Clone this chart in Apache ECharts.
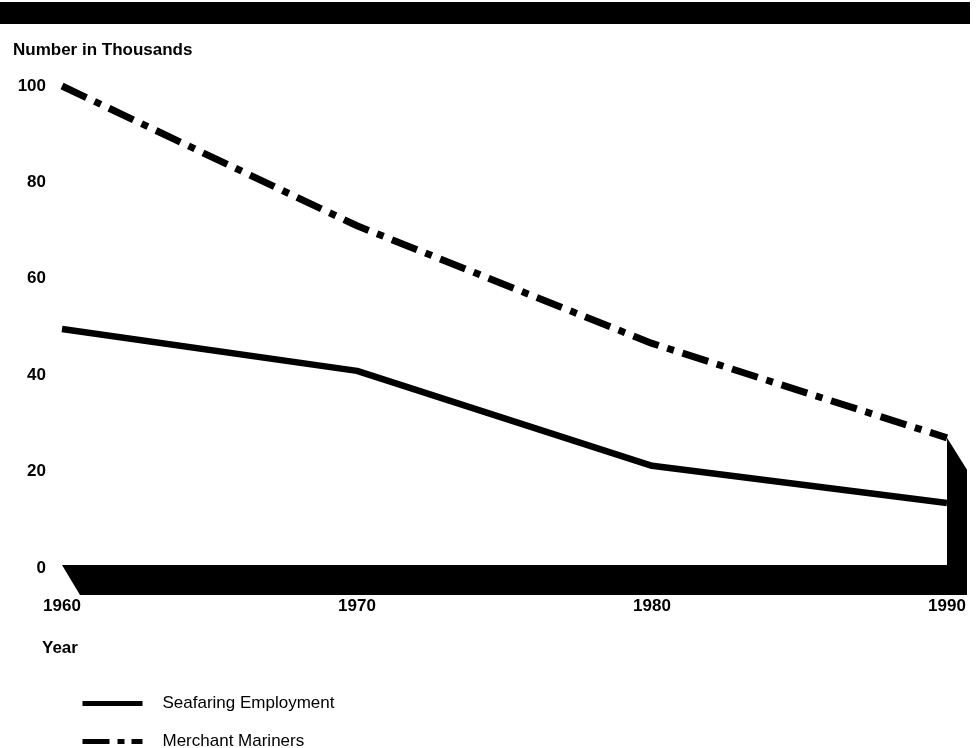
<!DOCTYPE html>
<html>
<head>
<meta charset="utf-8">
<script src="https://cdn.jsdelivr.net/npm/echarts@6/dist/echarts.min.js"></script>
<style>html,body{margin:0;padding:0;background:#fff}#c{width:980px;height:748px}</style>
</head>
<body>
<div id="c"></div>
<script>
var years = ['1960', '1970', '1980', '1990'];
var seafaring = [49.6, 40.9, 21.2, 13.5];
var mariners = [100, 71, 46.6, 27];
var yTicks = [0, 20, 40, 60, 80, 100];

var FONT = '"Liberation Sans", Arial, Helvetica, sans-serif';
var boldText = { fontFamily: FONT, fontSize: 17, fontWeight: 'bold', color: '#000' };
var chart = echarts.init(document.getElementById('c'));
function legendOf(name, top, dash, w) {
  return {
    orient: 'horizontal', left: 80, top: top, padding: 0, itemWidth: 60, itemHeight: 12,
    textStyle: { fontFamily: FONT, fontSize: 17, color: '#000', padding: [0, 0, 0, 15] },
    data: [{ name: name, lineStyle: { color: '#000', width: w, type: dash, cap: 'butt' }, itemStyle: { opacity: 0 } }]
  };
}
chart.setOption({
  backgroundColor: '#fff',
  animation: false,
  textStyle: { fontFamily: FONT },
  title: [
    { text: 'Number in Thousands', left: 13, top: 42, padding: 0, textStyle: boldText },
    { text: 'Year', left: 42, top: 640, padding: 0, textStyle: boldText }
  ],
  graphic: [
    { type: 'rect', shape: { x: 0, y: 2, width: 970, height: 22 }, style: { fill: '#000' } }
  ],
  legend: [
    legendOf('Seafaring Employment', 695, 'solid', 5),
    legendOf('Merchant Mariners', 733, [27, 8, 7, 7], 5)
  ],
  grid: { left: 62, right: 33, top: 86, bottom: 180, containLabel: false },
  xAxis: {
    type: 'category', data: years, boundaryGap: false,
    axisLine: { show: false }, axisTick: { show: false }, splitLine: { show: false },
    axisLabel: Object.assign({ margin: 30 }, boldText)
  },
  yAxis: {
    type: 'value', min: 0, max: 100, interval: 20,
    axisLine: { show: false }, axisTick: { show: false }, splitLine: { show: false },
    axisLabel: Object.assign({ margin: 16, align: 'right' }, boldText)
  },
  series: [
    {
      type: 'custom', name: 'base', silent: true, clip: false, z: 3,
      data: [[0, 0]],
      renderItem: function (params, api) {
        var a = api.coord([0, 0]);
        var b = api.coord([years.length - 1, 0]);
        var t = api.coord([years.length - 1, mariners[mariners.length - 1]]);
        return {
          type: 'polygon',
          shape: { points: [
            [a[0], a[1] - 3], [b[0], a[1] - 3], [b[0], t[1]], [b[0] + 20, t[1] + 32],
            [b[0] + 20, a[1] + 27], [a[0] + 18, a[1] + 27]
          ] },
          style: { fill: '#000' }
        };
      }
    },
    {
      name: 'Seafaring Employment', type: 'line', data: seafaring, symbol: 'none', z: 2,
      lineStyle: { color: '#000', width: 6.5, cap: 'butt', join: 'round' }, itemStyle: { color: '#000' }
    },
    {
      name: 'Merchant Mariners', type: 'line', data: mariners, symbol: 'none', z: 2,
      lineStyle: { color: '#000', width: 7, type: [27, 9, 7, 9], cap: 'butt' }, itemStyle: { color: '#000' }
    }
  ]
});
</script>
</body>
</html>
